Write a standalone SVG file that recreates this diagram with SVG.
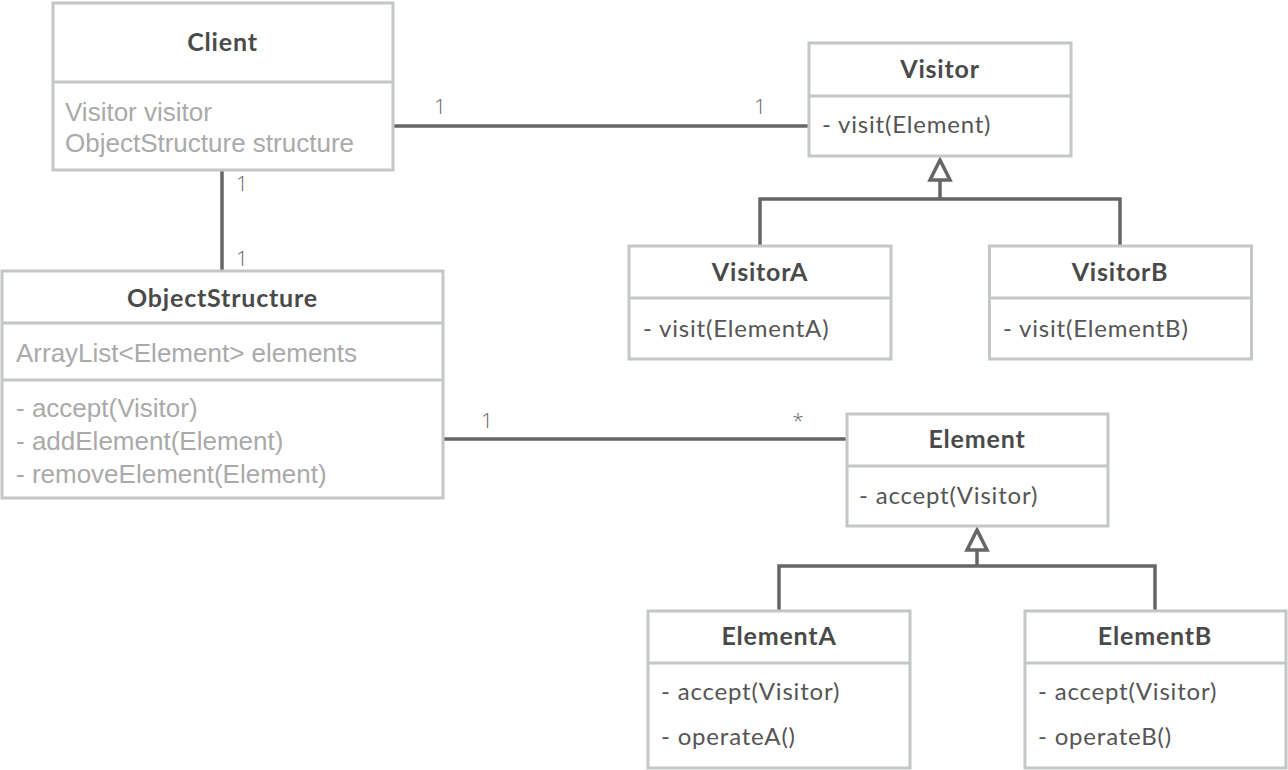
<svg xmlns="http://www.w3.org/2000/svg" width="1288" height="770" viewBox="0 0 1288 770">
<style>
.box{fill:#fff;stroke:#c3c7c7;stroke-width:3}
.div{stroke:#c3c7c7;stroke-width:3}
.title{font-family:Lato,"Noto Sans",sans-serif;font-weight:bold;font-size:25px;letter-spacing:0.8px;fill:#4a4a4a;text-anchor:middle}
.attr{font-family:"Liberation Sans",Arial,sans-serif;font-size:26px;fill:#aaaaaa}
.mem{font-family:Lato,"Noto Sans",sans-serif;font-size:24px;letter-spacing:0.8px;fill:#555}
.lbl{font-family:"Open Sans","Noto Sans",sans-serif;font-weight:300;font-size:21px;fill:#666;text-anchor:middle}
.con{stroke:#666;stroke-width:3.5;fill:none}
.tri{stroke:#666;stroke-width:3.5;fill:#fff;stroke-linejoin:miter}
</style>
<rect width="1288" height="770" fill="#fff"/>
<g id="connectors">
<line class="con" x1="393" y1="126" x2="809" y2="126"/>
<line class="con" x1="222" y1="170" x2="222" y2="271"/>
<line class="con" x1="443" y1="439" x2="847" y2="439"/>
<polyline class="con" points="760,246 760,199 1120,199 1120,246"/>
<line class="con" x1="940" y1="180" x2="940" y2="199"/>
<polygon class="tri" points="940,160 930,180 950,180"/>
<polyline class="con" points="779,611 779,566 1155,566 1155,611"/>
<line class="con" x1="977" y1="550" x2="977" y2="566"/>
<polygon class="tri" points="977,530 967,550 987,550"/>
<text class="lbl" x="440" y="114">1</text>
<text class="lbl" x="760" y="114">1</text>
<text class="lbl" x="242" y="191">1</text>
<text class="lbl" x="242" y="266">1</text>
<text class="lbl" x="487" y="428">1</text>
<text class="lbl" x="798" y="428">*</text>
</g>
<g id="Client">
<rect class="box" x="53" y="3" width="340" height="167"/>
<line class="div" x1="53" y1="82" x2="393" y2="82"/>
<text class="title" x="222.5" y="51">Client</text>
<text class="attr" x="65" y="121">Visitor visitor</text>
<text class="attr" x="65" y="152">ObjectStructure structure</text>
</g>
<g id="ObjectStructure">
<rect class="box" x="2" y="271" width="441" height="227"/>
<line class="div" x1="2" y1="323" x2="443" y2="323"/>
<line class="div" x1="2" y1="380" x2="443" y2="380"/>
<text class="title" x="222.5" y="307">ObjectStructure</text>
<text class="attr" x="16" y="362">ArrayList&lt;Element&gt; elements</text>
<text class="attr" x="16" y="417">- accept(Visitor)</text>
<text class="attr" x="16" y="450">- addElement(Element)</text>
<text class="attr" x="16" y="483">- removeElement(Element)</text>
</g>
<g id="Visitor">
<rect class="box" x="809" y="43" width="262" height="113"/>
<line class="div" x1="809" y1="96" x2="1071" y2="96"/>
<text class="title" x="940" y="78">Visitor</text>
<text class="mem" x="822" y="133">- visit(Element)</text>
</g>
<g id="VisitorA">
<rect class="box" x="629" y="246" width="262" height="113"/>
<line class="div" x1="629" y1="298" x2="891" y2="298"/>
<text class="title" x="760" y="281">VisitorA</text>
<text class="mem" x="643" y="337">- visit(ElementA)</text>
</g>
<g id="VisitorB">
<rect class="box" x="989.5" y="246" width="262" height="113"/>
<line class="div" x1="989.5" y1="298" x2="1251.5" y2="298"/>
<text class="title" x="1120" y="281">VisitorB</text>
<text class="mem" x="1003" y="337">- visit(ElementB)</text>
</g>
<g id="Element">
<rect class="box" x="847" y="414" width="261" height="112"/>
<line class="div" x1="847" y1="466" x2="1108" y2="466"/>
<text class="title" x="977" y="448">Element</text>
<text class="mem" x="859" y="504">- accept(Visitor)</text>
</g>
<g id="ElementA">
<rect class="box" x="648" y="611" width="262" height="157"/>
<line class="div" x1="648" y1="663" x2="910" y2="663"/>
<text class="title" x="779" y="645">ElementA</text>
<text class="mem" x="661" y="700">- accept(Visitor)</text>
<text class="mem" x="661" y="745">- operateA()</text>
</g>
<g id="ElementB">
<rect class="box" x="1025" y="611" width="261" height="157"/>
<line class="div" x1="1025" y1="663" x2="1286" y2="663"/>
<text class="title" x="1155" y="645">ElementB</text>
<text class="mem" x="1038" y="700">- accept(Visitor)</text>
<text class="mem" x="1038" y="745">- operateB()</text>
</g>
</svg>
